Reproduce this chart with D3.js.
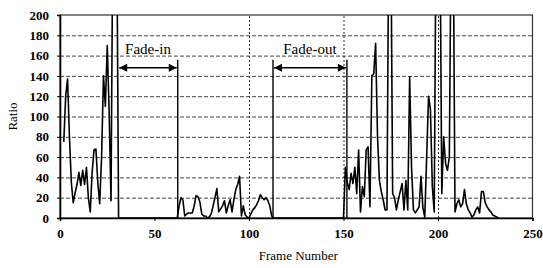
<!DOCTYPE html>
<html>
<head>
<meta charset="utf-8">
<script src="https://cdn.jsdelivr.net/npm/d3@7/dist/d3.min.js"></script>
<style>
  body { margin: 0; background: #fff; }
  text { font-family: "Liberation Serif", "Times New Roman", serif; fill: #000; }
</style>
</head>
<body>
<svg id="canvas" width="543" height="268"></svg>
<script>
// frame numbers run from firstFrame upward, one ratio per frame
let firstFrame = 2
let ratios = [
  75, 120, 137, 80, 35, 15, 25, 33, 45, 32, 47, 33, 50, 20, 6, 45, 67, 68, 35, 14,
  60, 140, 110, 170, 105, 17, 300, 300, 300, 0,
  0, 0, 0, 0, 0, 0, 0, 0, 0, 0, 0, 0, 0, 0, 0, 0, 0, 0, 0, 0, 0, 0, 0, 0, 0, 0, 0, 0, 0, 0, 0,
  12, 20, 18, 2, 4, 5, 5, 5, 12, 22, 21, 16, 4, 2, 2, 0, 1, 4, 12, 20, 29, 6, 9, 12, 17, 5,
  12, 18, 6, 18, 28, 33, 41, 2, 12, 3, 1, 0, 4, 8, 10, 13, 17, 23, 20, 18, 20, 17, 12, 2,
  0, 0, 0, 0, 0, 0, 0, 0, 0, 0, 0, 0, 0, 0, 0, 0, 0, 0, 0, 0, 0, 0, 0, 0, 0, 0, 0, 0, 0, 0,
  0, 0, 0, 0, 0, 0, 0, 0,
  50, 35, 28, 44, 34, 50, 24, 67, 6, 31, 21, 67, 70, 11, 140, 142, 172, 80, 37, 26, 18, 8, 8,
  300, 300, 24, 20, 8, 18, 26, 34, 8, 37, 8, 139, 50, 8, 5, 8, 11, 41, 10, 1, 60, 120, 107,
  31, 6, 300, 300, 300, 24, 80, 54, 47, 60, 300, 300, 6, 14, 18, 11, 14, 28, 14, 8, 5, 1,
  3, 8, 11, 5, 26, 26, 15, 11, 8, 6, 3, 2, 1, 0
]

let xTicks = [0, 50, 100, 150, 200, 250]
let yTicks = [0, 20, 40, 60, 80, 100, 120, 140, 160, 180, 200]
let yGrid = [20, 40, 60, 80, 100, 120, 140, 160, 180]
let xGrid = [100, 150, 200]

// annotated transitions
let fadeNames = ['Fade-in', 'Fade-out']
let fadeStart = [30.8, 112.7]
let fadeEnd = [62.3, 151.8]
let fadeHasLeftLine = [false, true]

let canvas = d3.select('#canvas')

let margin = {left: 60, right: 10.5, top: 15, bottom: 50}
let width = 543 - margin.left - margin.right
let height = 268 - margin.top - margin.bottom

let xScale = d3.scaleLinear().domain([0, 250]).range([margin.left, margin.left + width])
let yScale = d3.scaleLinear().domain([0, 200]).range([margin.top + height, margin.top])

let points = ratios.map((r, i) => [firstFrame + i, r])

// gridlines drawn as axes with full-width ticks, then dashed
let yGridAxis = d3.axisLeft(yScale).tickValues(yGrid).tickSize(-width).tickFormat('')
let xGridAxis = d3.axisBottom(xScale).tickValues(xGrid).tickSize(-height).tickFormat('')

let gridY = canvas.append('g')
    .attr('transform', 'translate(' + xScale(0) + ',0)')
    .call(yGridAxis)
let gridX = canvas.append('g')
    .attr('transform', 'translate(0,' + yScale(0) + ')')
    .call(xGridAxis)

gridY.select('.domain').remove()
gridX.select('.domain').remove()
gridY.selectAll('.tick line')
    .attr('stroke', '#444')
    .attr('stroke-width', 1)
    .attr('stroke-dasharray', '4,2')
gridX.selectAll('.tick line')
    .attr('stroke', '#333')
    .attr('stroke-width', 1)
    .attr('stroke-dasharray', '2,2')

// plot border
canvas.append('rect')
    .attr('x', xScale(0)).attr('y', yScale(200))
    .attr('width', xScale(250) - xScale(0)).attr('height', yScale(0) - yScale(200))
    .attr('fill', 'none').attr('stroke', '#333').attr('stroke-width', 1.2)

canvas.append('clipPath').attr('id', 'clip')
    .append('rect')
    .attr('x', xScale(0)).attr('y', yScale(200))
    .attr('width', xScale(250) - xScale(0)).attr('height', yScale(0) - yScale(200))

canvas.append('path')
    .datum(points)
    .attr('clip-path', 'url(#clip)')
    .attr('fill', 'none')
    .attr('stroke', '#000')
    .attr('stroke-width', 1.6)
    .attr('stroke-linejoin', 'round')
    .attr('d', d3.line().x(d => xScale(d[0])).y(d => yScale(d[1])))

// axes
let xAxis = d3.axisBottom(xScale).tickValues(xTicks).tickSize(3).tickPadding(8)
let yAxis = d3.axisLeft(yScale).tickValues(yTicks).tickSize(3).tickPadding(8)

let gx = canvas.append('g').attr('class', 'axis').attr('transform', 'translate(0,' + yScale(0) + ')').call(xAxis)
let gy = canvas.append('g').attr('class', 'axis').attr('transform', 'translate(' + xScale(0) + ',0)').call(yAxis)

canvas.selectAll('.axis .domain').attr('stroke', '#000').attr('stroke-width', 1.6)
canvas.selectAll('.axis .tick line').attr('stroke', '#000')
canvas.selectAll('.axis .tick text')
    .style('font-family', '"Liberation Serif", serif')
    .style('font-size', '13px')
    .style('font-weight', 'bold')

canvas.append('text')
    .attr('x', (xScale(0) + xScale(250)) / 2 + 2)
    .attr('y', 260)
    .attr('text-anchor', 'middle')
    .style('font-size', '13px')
    .text('Frame Number')

canvas.append('text')
    .attr('transform', 'translate(17,' + yScale(100) + ') rotate(-90)')
    .attr('text-anchor', 'middle')
    .style('font-size', '13px')
    .text('Ratio')

// fade annotations
let arrowY = 148
canvas.append('defs').selectAll('marker')
    .data(['start', 'end'])
    .enter()
    .append('marker')
    .attr('id', d => 'arrow-' + d)
    .attr('viewBox', '0 0 10 10')
    .attr('refX', d => d === 'end' ? 10 : 0)
    .attr('refY', 5)
    .attr('markerWidth', 9).attr('markerHeight', 8)
    .attr('markerUnits', 'userSpaceOnUse')
    .attr('orient', 'auto')
    .append('path')
    .attr('d', d => d === 'end' ? 'M0,0 L10,5 L0,10 Z' : 'M10,0 L0,5 L10,10 Z')
    .attr('fill', '#000')

fadeNames.forEach((name, i) => {
    let a = xScale(fadeStart[i])
    let b = xScale(fadeEnd[i])
    if (fadeHasLeftLine[i]) {
        canvas.append('line')
            .attr('x1', a).attr('x2', a).attr('y1', yScale(156)).attr('y2', yScale(0))
            .attr('stroke', '#000').attr('stroke-width', 1.4)
    }
    canvas.append('line')
        .attr('x1', b).attr('x2', b).attr('y1', yScale(156)).attr('y2', yScale(0))
        .attr('stroke', '#000').attr('stroke-width', 1.4)
    canvas.append('line')
        .attr('x1', a + 1).attr('x2', b - 1)
        .attr('y1', yScale(arrowY)).attr('y2', yScale(arrowY))
        .attr('stroke', '#000').attr('stroke-width', 1.6)
        .attr('marker-start', 'url(#arrow-start)')
        .attr('marker-end', 'url(#arrow-end)')
    canvas.append('text')
        .attr('x', (a + b) / 2)
        .attr('y', yScale(161.5))
        .attr('text-anchor', 'middle')
        .style('font-size', '15px')
        .text(name)
})
</script>
</body>
</html>
